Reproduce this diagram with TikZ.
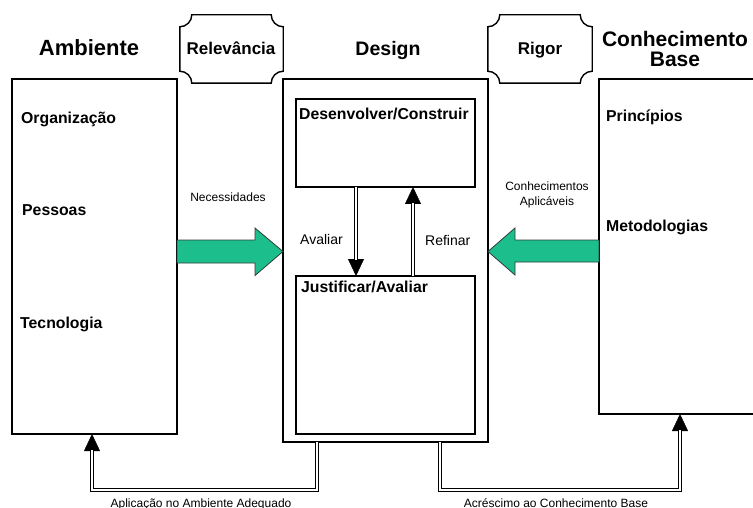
\documentclass[tikz,border=0pt]{standalone}
\usepackage{fontspec}
\setmainfont{Liberation Sans}
\usetikzlibrary{arrows.meta,calc}

\definecolor{flowgreen}{RGB}{28,190,140}
\definecolor{flowedge}{RGB}{50,60,55}

\tikzset{
  box/.style={draw, line width=2pt, rectangle, inner sep=0pt, outer sep=0pt},
  plaqueline/.style={draw, line width=1.4pt},
  title/.style={font=\bfseries\fontsize{#1}{#1}\selectfont, inner sep=0pt},
  item/.style={font=\bfseries\fontsize{15.8}{18}\selectfont, inner sep=0pt, anchor=base west},
  note/.style={font=\fontsize{#1}{#1}\selectfont, inner sep=0pt, anchor=base},
  flowarrow/.style={fill=flowgreen, draw=flowedge, line width=0.8pt, line join=miter},
  tipline/.style={line width=0.4pt, -{Triangle[length=17pt 0 0,width=16pt 0 0]}},
  dbl/.style={line width=1.1pt, double=white, double distance=2.4pt, line join=miter, shorten >=16pt},
}

\begin{document}
\begin{tikzpicture}[x=1pt,y=-1pt]
\useasboundingbox (0,0) rectangle (753,508);
\clip (0,0) rectangle (753,508);

% main boxes
\node[box, minimum width=165pt, minimum height=355pt] (amb) at (94.5,256.5) {};
\node[box, minimum width=205pt, minimum height=363pt] (design) at (385.5,260.5) {};
\node[box, minimum width=179pt, minimum height=88pt]  (dev) at (385.5,143) {};
\node[box, minimum width=179pt, minimum height=158pt] (just) at (385.5,355) {};
\node[box, minimum width=191pt, minimum height=335pt] (kb) at (694.5,246.5) {};

% column headings
\node[title=22, anchor=base] (tAmb) at (89,56) {Ambiente};
\node[title=19.5, anchor=base] (tDesign) at (388,56) {Design};
\node[title=21, anchor=base] (tKb1) at (675,47) {Conhecimento};
\node[title=21, anchor=base] (tKb2) at (675,67) {Base};

% plaques between the columns
\node[title=17, minimum width=103pt, minimum height=68pt] (rel) at (231.5,49) {};
\node[title=17, anchor=base] (relTxt) at (231,55) {Relevância};
\node[title=17, minimum width=104pt, minimum height=68pt] (rig) at (540,49) {};
\node[title=17, anchor=base] (rigTxt) at (540,55) {Rigor};
\foreach \p in {rel,rig}{
  \draw[plaqueline]
    ($(\p.north west)+(12,0)$) -- ($(\p.north east)+(-12,0)$)
    .. controls ($(\p.north east)+(-12,6.6)$) and ($(\p.north east)+(-6.6,12)$) .. ($(\p.north east)+(0,12)$)
    -- ($(\p.south east)+(0,-12)$)
    .. controls ($(\p.south east)+(-6.6,-12)$) and ($(\p.south east)+(-12,-6.6)$) .. ($(\p.south east)+(-12,0)$)
    -- ($(\p.south west)+(12,0)$)
    .. controls ($(\p.south west)+(12,-6.6)$) and ($(\p.south west)+(6.6,-12)$) .. ($(\p.south west)+(0,-12)$)
    -- ($(\p.north west)+(0,12)$)
    .. controls ($(\p.north west)+(6.6,12)$) and ($(\p.north west)+(12,6.6)$) .. cycle;
}

% box contents
\node[item] (org) at (21,124) {Organização};
\node[item] (pes) at (22,215) {Pessoas};
\node[item] (tec) at (20,328) {Tecnologia};
\node[item] (pri) at (606,122) {Princípios};
\node[item] (met) at (606,232) {Metodologias};
\node[item] (devTxt) at (299,120) {Desenvolver/Construir};
\node[item] (justTxt) at (301,292) {Justificar/Avaliar};

% flow labels
\node[note=12] (nec) at (228,202) {Necessidades};
\node[note=12] (con1) at (547,191) {Conhecimentos};
\node[note=12] (con2) at (547,205) {Aplicáveis};
\node[note=14, anchor=base west] (aval) at (300,244) {Avaliar};
\node[note=14, anchor=base west] (ref) at (425,245) {Refinar};
\node[note=12] (apl) at (201,507) {Aplicação no Ambiente Adequado};
\node[note=12] (acr) at (556,507) {Acréscimo ao Conhecimento Base};

% green flow arrows
\draw[flowarrow] (amb.east |- 0,240) -- (255,240) -- (255,228) -- (design.west |- 0,251.5)
  -- (255,275.5) -- (255,263) -- (amb.east |- 0,263) -- cycle;
\draw[flowarrow] (kb.west |- 0,240) -- (515,240) -- (515,228) -- (design.east |- 0,251.5)
  -- (515,275) -- (515,262) -- (kb.west |- 0,262) -- cycle;

% evaluate / refine loop
\coordinate (avA) at ($(dev.south)+(-29.5,0)$);
\coordinate (avB) at ($(just.north)+(-29.5,0)$);
\coordinate (rfA) at ($(just.north)+(27.5,0)$);
\coordinate (rfB) at ($(dev.south)+(27.5,0)$);
\draw[tipline] (avA) -- (avB);
\draw[dbl] (avA) -- (avB);
\draw[tipline] (rfA) -- (rfB);
\draw[dbl] (rfA) -- (rfB);

% feedback to environment and knowledge base
\coordinate (fbL0) at (design.south -| 317,0);
\coordinate (fbL1) at (317,490);
\coordinate (fbL2) at (92,490);
\coordinate (fbL3) at (amb.south -| 92,0);
\draw[tipline] (fbL0) -- (fbL1) -- (fbL2) -- (fbL3);
\draw[dbl] (fbL0) -- (fbL1) -- (fbL2) -- (fbL3);

\coordinate (fbR0) at (design.south -| 440,0);
\coordinate (fbR1) at (440,490);
\coordinate (fbR2) at (680,490);
\coordinate (fbR3) at (kb.south -| 680,0);
\draw[tipline] (fbR0) -- (fbR1) -- (fbR2) -- (fbR3);
\draw[dbl] (fbR0) -- (fbR1) -- (fbR2) -- (fbR3);
\end{tikzpicture}
\end{document}
